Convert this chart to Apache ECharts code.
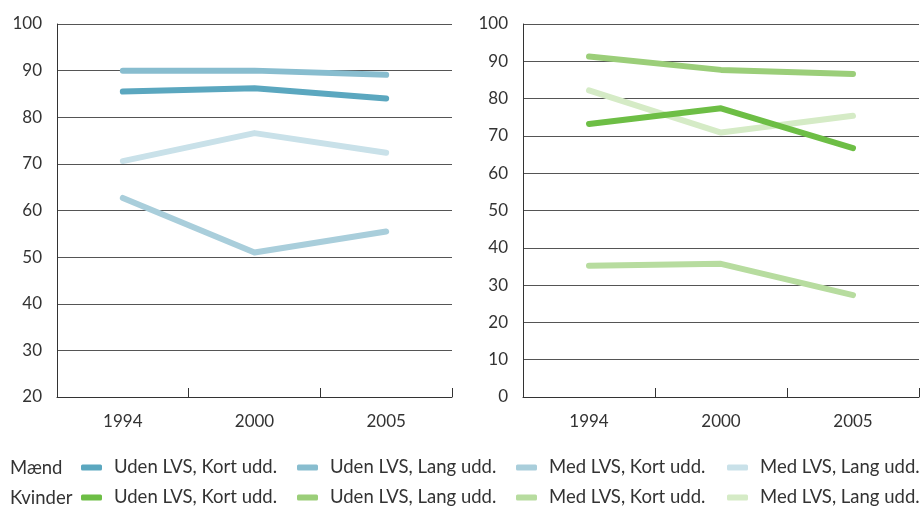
<!DOCTYPE html>
<html>
<head>
<meta charset="utf-8">
<script src="https://cdn.jsdelivr.net/npm/echarts@6/dist/echarts.min.js"></script>
<style>
  html, body { margin: 0; padding: 0; background: #fff; }
  #chart { width: 923px; height: 509px; }
</style>
</head>
<body>
<div id="chart"></div>
<script>
// Years on the category axis
const years = ['1994', '2000', '2005'];

// Men (left panel)
const maendUdenKort = [85.5, 86.2, 84.0];
const maendUdenLang = [90.0, 90.0, 89.1];
const maendMedKort  = [62.7, 51.0, 55.5];
const maendMedLang  = [70.6, 76.6, 72.4];

// Women (right panel)
const kvinderUdenKort = [73.2, 77.4, 66.7];
const kvinderUdenLang = [91.3, 87.7, 86.6];
const kvinderMedKort  = [35.2, 35.7, 27.3];
const kvinderMedLang  = [82.2, 70.9, 75.4];

const groupLabels = ['Mænd', 'Kvinder'];
const seriesLabels = ['Uden LVS, Kort udd.', 'Uden LVS, Lang udd.', 'Med LVS, Kort udd.', 'Med LVS, Lang udd.'];

const blues  = ['#5ba7bf', '#88bdcf', '#a9cedb', '#c9e1e9'];
const greens = ['#6dbe45', '#9bce79', '#b7dc9f', '#d5ebc6'];

const FONT = 'Lato';
const TEXT = '#333333';

function yAxis(gridIndex, min, max) {
  return {
    type: 'value', gridIndex, min, max, interval: 10,
    axisLine: { show: true, lineStyle: { color: '#333', width: 1 } },
    axisTick: { show: false },
    axisLabel: { color: TEXT, fontFamily: FONT, fontSize: 17, margin: 15 },
    splitLine: { show: true, lineStyle: { color: '#555', width: 1 } }
  };
}

function xAxis(gridIndex) {
  return {
    type: 'category', gridIndex, data: years, boundaryGap: true,
    axisLine: { show: true, lineStyle: { color: '#333', width: 1 } },
    axisTick: { show: true, inside: true, length: 9, lineStyle: { color: '#333' } },
    axisLabel: { color: TEXT, fontFamily: FONT, fontSize: 17, margin: 16 }
  };
}

function line(name, data, color, idx) {
  return {
    name, type: 'line', data, xAxisIndex: idx, yAxisIndex: idx,
    showSymbol: false, symbol: 'none', silent: true,
    lineStyle: { color, width: 6, cap: 'round', join: 'round' },
    itemStyle: { color },
    animation: false
  };
}

const groups = [
  [maendUdenKort, maendUdenLang, maendMedKort, maendMedLang],
  [kvinderUdenKort, kvinderUdenLang, kvinderMedKort, kvinderMedLang]
];
const palettes = [blues, greens];

// Lighter lines first so the stronger ones sit on top
const series = [];
groups.forEach((g, gi) => {
  for (let k = 3; k >= 0; k--) {
    series.push(line(groupLabels[gi] + ': ' + seriesLabels[k], g[k], palettes[gi][k], gi));
  }
});

// One legend block per entry, laid out in two rows
const legendLeft = [81, 297, 516, 727];
const legendTop = [458, 488];
const legends = [];
groupLabels.forEach((gl, gi) => {
  seriesLabels.forEach((sl, k) => {
    legends.push({
      data: [gl + ': ' + sl],
      left: legendLeft[k], top: legendTop[gi],
      icon: 'roundRect', itemWidth: 21, itemHeight: 6,
      itemGap: 0, padding: 0, selectedMode: false,
      formatter: n => n.split(': ')[1],
      textStyle: { color: TEXT, fontFamily: FONT, fontSize: 18.5, padding: [0, 0, 0, 7] }
    });
  });
});

const chart = echarts.init(document.getElementById('chart'), null, { renderer: 'canvas' });
chart.setOption({
  animation: false,
  backgroundColor: '#fff',
  grid: [
    { left: 57, right: 471, top: 24, bottom: 112 },
    { left: 523, right: 4, top: 24, bottom: 112 }
  ],
  xAxis: [xAxis(0), xAxis(1)],
  yAxis: [yAxis(0, 20, 100), yAxis(1, 0, 100)],
  legend: legends,
  graphic: groupLabels.map((gl, gi) => ({
    type: 'text', left: 10, top: legendTop[gi] + 1,
    style: { text: gl, fill: TEXT, font: '18.5px ' + FONT }
  })),
  series
});
</script>
</body>
</html>
